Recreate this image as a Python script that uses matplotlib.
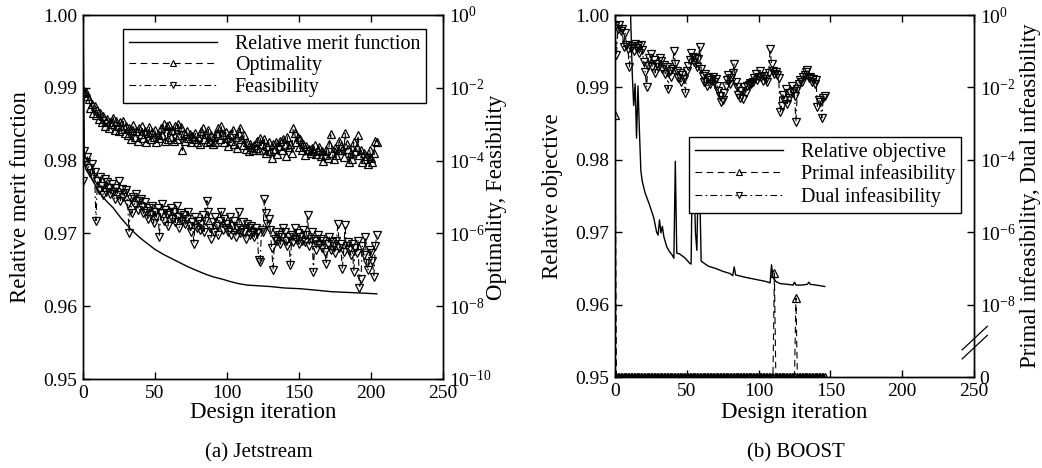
import numpy as np
import matplotlib.pyplot as plt

plt.rcParams["font.family"] = ["Liberation Serif", "DejaVu Serif"]
plt.rcParams["mathtext.fontset"] = "custom"
plt.rcParams["mathtext.rm"] = "Liberation Serif"
plt.rcParams["mathtext.it"] = "Liberation Serif:italic"
plt.rcParams["xtick.direction"] = "in"
plt.rcParams["ytick.direction"] = "in"
plt.rcParams["axes.linewidth"] = 1.0

# datos: Jetstream ------------------------------------------------------

merit_it = [0, 1, 2, 4, 8, 12, 16, 21, 26, 33, 39, 44, 50, 56, 62, 67, 73,
            79, 85, 91, 97, 102, 108, 114, 122, 130, 140, 151, 162, 172,
            183, 194, 204]
merit_val = [1.000, 0.9795, 0.9788, 0.9782, 0.9768, 0.9755, 0.9745, 0.9735,
             0.9722, 0.9706, 0.9695, 0.9687, 0.9678, 0.9671, 0.9665, 0.9660,
             0.9654, 0.9649, 0.9644, 0.9640, 0.9637, 0.9634, 0.9631, 0.9629,
             0.9628, 0.9627, 0.9625, 0.9624, 0.9622, 0.9620, 0.9619, 0.9618,
             0.9617]

# exponentes log10, una entrada por iteracion (0..204)
opt_exp = [
    -2.15, -2.08, -2.12, -2.22, -2.30, -2.55, -2.45, -2.68, -2.50, -2.75,
    -2.62, -2.85, -2.70, -2.95, -2.78, -3.05, -2.92, -2.85, -3.10, -2.95,
    -3.00, -2.82, -3.15, -2.90, -3.05, -3.20, -2.95, -3.12, -2.92, -3.25,
    -3.05, -3.30, -3.10, -3.40, -3.15, -3.02, -3.35, -3.20, -3.45, -3.10,
    -3.28, -3.05, -3.38, -3.18, -3.50, -3.25, -3.08, -3.42, -3.22, -3.35,
    -3.15, -3.48, -3.28, -3.38, -3.10, -3.30, -3.00, -3.45, -3.05, -3.40,
    -3.02, -3.35, -3.15, -3.45, -3.05, -3.40, -3.00, -3.30, -3.08, -3.72,
    -3.25, -3.45, -3.20, -3.38, -3.28, -3.50, -3.32, -3.42, -3.25, -3.48,
    -3.35, -3.55, -3.20, -3.10, -3.40, -3.28, -3.50, -3.15, -3.45, -3.30,
    -3.55, -3.35, -3.48, -3.25, -3.10, -3.40, -3.05, -3.30, -3.50, -3.22,
    -3.38, -3.60, -3.28, -3.45, -3.15, -3.55, -3.35, -3.65, -3.25, -3.10,
    -3.40, -3.58, -3.30, -3.68, -3.48, -3.75, -3.55, -3.62, -3.70, -3.58,
    -3.65, -3.45, -3.72, -3.38, -3.55, -3.70, -3.42, -3.80, -3.60, -3.50,
    -3.75, -3.92, -3.55, -3.68, -3.48, -3.82, -3.60, -3.45, -3.70, -3.40,
    -3.58, -3.88, -3.35, -3.62, -3.55, -3.78, -3.10, -3.25, -3.48, -3.35,
    -3.62, -3.42, -3.70, -3.55, -3.85, -3.60, -3.72, -3.68, -3.80, -3.65,
    -3.75, -3.58, -3.82, -3.70, -3.62, -3.88, -3.75, -4.00, -3.85, -3.70,
    -3.92, -3.55, -3.28, -3.78, -3.95, -3.65, -3.85, -3.70, -3.45, -3.60,
    -3.72, -3.90, -3.25, -3.55, -3.68, -4.05, -3.80, -3.95, -3.50, -3.75,
    -3.62, -3.30, -3.85, -3.72, -4.05, -3.78, -3.95, -3.88, -4.10, -3.70,
    -3.92, -4.05, -3.80, -3.45, -3.48,
]
feas_exp = [
    -4.55, -3.75, -4.05, -3.90, -4.20, -4.35, -4.10, -4.45, -4.30, -5.65,
    -4.55, -4.80, -4.45, -4.70, -4.95, -4.50, -4.85, -4.60, -4.75, -4.92,
    -4.65, -4.85, -5.05, -4.75, -4.95, -4.55, -5.10, -4.78, -5.00, -4.90,
    -4.80, -5.20, -5.98, -5.05, -5.45, -5.00, -5.22, -4.92, -5.35, -5.10,
    -5.05, -5.28, -5.45, -5.15, -5.38, -5.60, -5.30, -5.50, -5.25, -5.72,
    -5.40, -5.55, -5.30, -6.10, -5.45, -5.20, -5.65, -5.35, -5.50, -5.80,
    -5.45, -5.30, -5.60, -5.40, -5.70, -5.25, -5.55, -5.85, -5.45, -5.65,
    -5.50, -5.75, -5.60, -5.40, -5.80, -5.95, -5.70, -6.28, -5.55, -5.85,
    -5.65, -5.90, -5.75, -5.50, -5.95, -5.65, -5.10, -5.40, -5.85, -6.15,
    -5.70, -5.95, -5.55, -5.80, -6.05, -5.65, -5.40, -5.90, -5.60, -5.85,
    -5.75, -5.95, -5.55, -6.05, -5.80, -5.65, -6.10, -5.85, -5.40, -6.00,
    -5.90, -5.70, -5.95, -6.15, -5.75, -5.85, -6.05, -5.80, -5.95, -6.10,
    -5.85, -6.00, -6.72, -6.78, -5.90, -5.95, -5.05, -5.45, -5.75, -5.60,
    -5.90, -6.40, -7.00, -6.15, -5.95, -6.20, -6.05, -6.30, -6.10, -5.85,
    -5.95, -6.20, -6.35, -6.10, -6.88, -6.05, -6.25, -5.85, -6.15, -6.00,
    -6.30, -6.10, -6.20, -5.90, -6.25, -6.05, -5.50, -6.35, -6.15, -5.95,
    -7.05, -6.20, -6.45, -6.05, -6.30, -6.15, -6.40, -6.20, -6.50, -6.85,
    -6.30, -6.10, -6.45, -6.25, -6.35, -6.55, -6.20, -5.75, -6.40, -6.30,
    -6.98, -6.50, -5.78, -6.35, -6.25, -6.45, -6.60, -6.30, -7.05, -6.40,
    -6.55, -6.20, -7.50, -7.25, -6.35, -6.60, -6.10, -6.80, -7.00, -6.45,
    -6.55, -6.75, -7.20, -6.35, -6.05,
]

# datos: BOOST ----------------------------------------------------------

obj_it = [0, 1, 5, 10, 11, 12, 13, 14, 15, 16, 17, 18, 19, 21, 24, 27, 29,
          30, 31, 32, 33, 34, 36, 38, 40, 41, 42, 43, 45, 49, 52, 53, 54, 55,
          56, 57, 58, 59, 60, 65, 70, 75, 80, 82, 83, 84, 90, 100, 105, 108,
          109, 110, 112, 115, 120, 124, 125, 126, 130, 134, 135, 136, 140,
          146]
obj_val = [1.000, 1.012, 1.015, 1.008, 0.999, 0.992, 0.9875, 0.9905, 0.9830,
           0.9902, 0.9840, 0.9785, 0.9770, 0.9754, 0.9738, 0.9720, 0.9700,
           0.9696, 0.9717, 0.9699, 0.9708, 0.9694, 0.9680, 0.9673, 0.9668,
           0.9664, 0.9798, 0.9671, 0.9670, 0.9664, 0.9657, 0.9656, 0.9820,
           0.9780, 0.9700, 0.9675, 0.9780, 0.9760, 0.9660, 0.9653, 0.9650,
           0.9646, 0.9643, 0.9640, 0.9652, 0.9641, 0.9638, 0.9634, 0.9632,
           0.9630, 0.9655, 0.9638, 0.9632, 0.9629, 0.9628, 0.9627, 0.9631,
           0.9627, 0.9627, 0.9628, 0.9631, 0.9628, 0.9627, 0.9625]

n_boost = 147
# infactibilidad primal: cero salvo en estas iteraciones
primal_it = [0, 111, 126]
primal_val = [10 ** -2.76, 10 ** -7.13, 10 ** -7.82]

dual_exp = [
    -0.30, -1.10, -0.40, -0.28, -0.45, -0.38, -0.88, -0.50, -0.82, -0.95,
    -1.45, -0.90, -0.85, -1.00, -0.80, -0.92, -0.85, -1.05, -0.82, -0.98,
    -1.30, -1.58, -1.98, -1.40, -1.20, -1.08, -1.45, -1.25, -1.60, -1.35,
    -1.45, -1.18, -1.28, -1.50, -1.38, -1.62, -1.45, -2.05, -1.55, -1.70,
    -1.48, -1.00, -1.35, -1.55, -1.75, -1.60, -1.85, -1.65, -1.78, -2.15,
    -1.55, -1.40, -1.25, -1.05, -1.15, -1.30, -1.20, -1.45, -1.22, -0.88,
    -1.50, -1.68, -1.85, -1.62, -1.95, -1.75, -1.90, -1.80, -1.72, -1.85,
    -1.78, -1.95, -2.10, -2.25, -2.40, -2.35, -2.15, -1.95, -1.80, -1.65,
    -1.90, -1.75, -1.60, -1.35, -1.85, -2.00, -2.20, -2.30, -2.10, -2.32,
    -2.00, -2.15, -1.95, -1.92, -1.88, -1.90, -1.85, -1.75, -1.62, -1.80,
    -1.70, -1.55, -1.72, -1.82, -1.68, -1.78, -1.85, -1.60, -0.95, -1.35,
    -1.55, -1.62, -1.58, -1.65, -1.75, -2.68, -2.50, -2.20, -2.35, -2.05,
    -2.45, -2.30, -2.15, -1.95, -2.10, -2.25, -2.95, -2.05, -1.90, -1.80,
    -1.85, -1.72, -1.65, -1.58, -1.52, -1.75, -1.70, -1.85, -1.78, -1.90,
    -1.80, -2.55, -2.35, -2.40, -2.85, -2.30, -2.25,
]

# ejes ------------------------------------------------------------------

W, H = 1042, 468
FS_TICK = 14
FS_LABEL = 16.5
FS_LEG = 14.4

OPT_STYLE = dict(color="k", lw=0.8, ls=(0, (6, 4)), marker="^", ms=5.5,
                 mfc="none", mec="k", mew=0.9)
FEAS_STYLE = dict(color="k", lw=0.8, ls=(0, (6, 3, 1.5, 3)), marker="v",
                  ms=5.5, mfc="none", mec="k", mew=0.9)


def px_axes(fig, x0, x1, ytop, ybot):
    return fig.add_axes([x0 / W, 1 - ybot / H, (x1 - x0) / W, (ybot - ytop) / H])


def base_axes(ax):
    ax.set_xlim(0, 250)
    ax.set_ylim(0.95, 1.0)
    ax.set_xticks(np.arange(0, 251, 50))
    ax.set_yticks(np.arange(0.95, 1.0001, 0.01))
    ax.yaxis.set_major_formatter(plt.FormatStrFormatter("%.2f"))
    ax.tick_params(axis="both", which="major", labelsize=FS_TICK, length=5,
                   width=1.0, top=True, pad=4)
    ax.set_xlabel("Design iteration", fontsize=FS_LABEL)


def legend(ax, handles, labels, x, y):
    leg = ax.legend(handles, labels, loc="upper right", bbox_to_anchor=(x, y),
                    fontsize=FS_LEG, frameon=True, fancybox=False,
                    framealpha=1.0, edgecolor="k", borderaxespad=0,
                    handlelength=4.4, handletextpad=0.9, labelspacing=0.12,
                    borderpad=0.3, numpoints=1)
    leg.get_frame().set_linewidth(1.0)
    for h in leg.legend_handles:
        h.set_markersize(4)
        h.set_markeredgewidth(0.8)
    return leg


def exp_label(k):
    return "$10^{%d}$" % k


fig = plt.figure(figsize=(W / 100, H / 100), dpi=100)

# (a) Jetstream
ax1 = px_axes(fig, 83, 443, 15, 379)
base_axes(ax1)
ax1.set_ylabel("Relative merit function", fontsize=FS_LABEL)
l_m, = ax1.plot(merit_it, merit_val, color="k", lw=1.0)

ax1b = ax1.twinx()
ax1b.set_yscale("log")
ax1b.set_ylim(1e-10, 1)
exps = [0, -2, -4, -6, -8, -10]
ax1b.set_yticks([10.0 ** k for k in exps])
ax1b.set_yticklabels([exp_label(k) for k in exps])
ax1b.yaxis.set_minor_locator(plt.NullLocator())
ax1b.tick_params(axis="y", labelsize=FS_TICK, length=5, width=1.0, pad=4)
ax1b.set_ylabel("Optimality, Feasibility", fontsize=FS_LABEL)

it_j = np.arange(len(opt_exp))
l_o, = ax1b.plot(it_j, 10.0 ** np.array(opt_exp), **OPT_STYLE)
l_f, = ax1b.plot(it_j, 10.0 ** np.array(feas_exp), **FEAS_STYLE)
legend(ax1b, [l_m, l_o, l_f],
       ["Relative merit function", "Optimality", "Feasibility"], 0.953, 0.962)

# (b) BOOST
ax2 = px_axes(fig, 615, 974, 15, 377)
base_axes(ax2)
ax2.set_ylabel("Relative objective", fontsize=FS_LABEL)
l_obj, = ax2.plot(obj_it, obj_val, color="k", lw=1.0)


def fwd(v):
    v = np.asarray(v, dtype=float)
    out = np.full(v.shape, -10.0)
    pos = v > 0
    out[pos] = np.log10(v[pos])
    return out


def inv(y):
    return 10.0 ** np.asarray(y, dtype=float)


ax2b = ax2.twinx()
ax2b.set_yscale("function", functions=(fwd, inv))
ax2b.set_ylim(10 ** -10.15, 1)
ticks_b = [0, 1e-8, 1e-6, 1e-4, 1e-2, 1]
ax2b.set_yticks(ticks_b)
ax2b.set_yticklabels(["0"] + [exp_label(k) for k in [-8, -6, -4, -2, 0]])
ax2b.yaxis.set_minor_locator(plt.NullLocator())
ax2b.tick_params(axis="y", labelsize=FS_TICK, length=5, width=1.0, pad=4)
ax2b.set_ylabel("Primal infeasibility, Dual infeasibility", fontsize=FS_LABEL)

it_b = np.arange(n_boost)
primal = np.zeros(n_boost)
primal[primal_it] = primal_val
l_p, = ax2b.plot(it_b, primal, **OPT_STYLE)
l_d, = ax2b.plot(it_b[:len(dual_exp)], 10.0 ** np.array(dual_exp), **FEAS_STYLE)
legend(ax2b, [l_obj, l_p, l_d],
       ["Relative objective", "Primal infeasibility", "Dual infeasibility"],
       0.964, 0.663)

# marcas de corte del eje derecho
for y0 in (0.075, 0.050):
    ax2b.plot([0.967, 1.037], [y0, y0 + 0.065], color="k", lw=0.9,
              transform=ax2b.transAxes, clip_on=False)

# posicion de etiquetas
for ax, xl, yl in ((ax1, -0.175, -0.093), (ax2, -0.173, -0.099)):
    ax.yaxis.set_label_coords(xl, 0.5)
    ax.yaxis.label.set_va("center")
    ax.xaxis.set_label_coords(0.5, yl)
    ax.xaxis.label.set_va("center")
for ax, xr in ((ax1b, 1.15), (ax2b, 1.156)):
    ax.yaxis.set_label_coords(xr, 0.5)
    ax.yaxis.label.set_va("center")

fig.text(259 / W, 1 - 453 / H, "(a) Jetstream", ha="center", va="center",
         fontsize=15)
fig.text(796 / W, 1 - 453 / H, "(b) BOOST", ha="center", va="center",
         fontsize=15)

fig.savefig("out.png", dpi=100)
